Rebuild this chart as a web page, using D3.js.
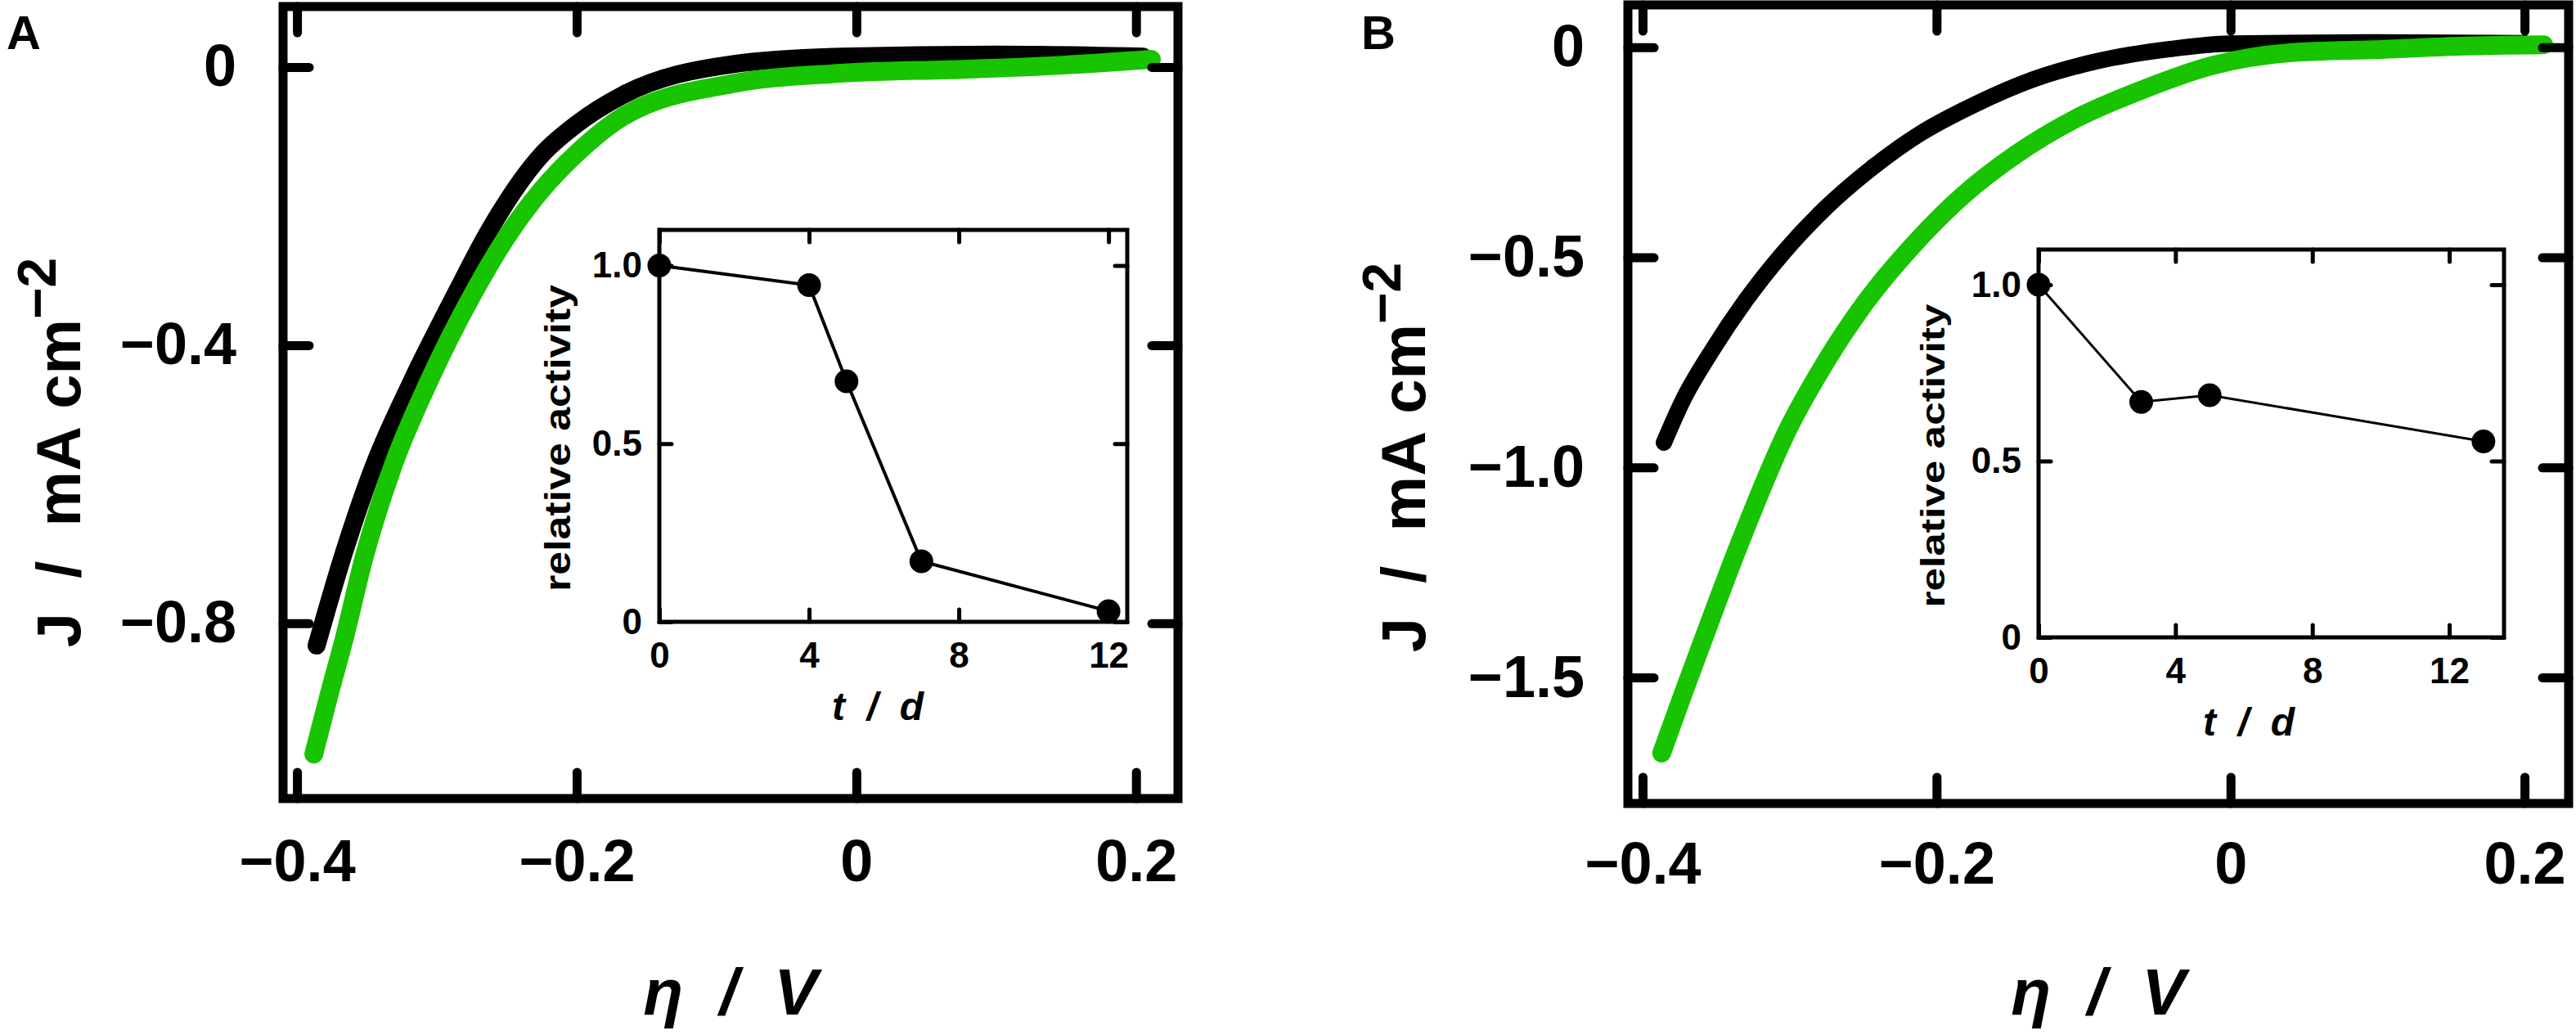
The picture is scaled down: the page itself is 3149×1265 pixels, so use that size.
<!DOCTYPE html>
<html>
<head>
<meta charset="utf-8">
<script src="https://cdn.jsdelivr.net/npm/d3@7"></script>
<style>
  body { margin: 0; background: #fff; }
  svg { display: block; }
  text { font-family: "Liberation Sans", Arial, sans-serif; font-weight: bold; fill: #000; }
</style>
</head>
<body>
<div id="chart"></div>
<script>
// panel A, polarisation curves (eta / V , J / mA cm-2)
var etaA_black = [-0.386, -0.367, -0.3457, -0.318, -0.286, -0.264, -0.225, -0.2, -0.1668, -0.089, -0.0113, 0.1, 0.205];
var jA_black   = [-0.832, -0.702, -0.577, -0.452, -0.324, -0.240, -0.126, -0.082, -0.04, 0.004, 0.015, 0.018, 0.015];
var etaA_green = [-0.388, -0.377, -0.367, -0.3516, -0.332, -0.3057, -0.2736, -0.25, -0.225, -0.2, -0.1668, -0.089, -0.0113, 0.08, 0.15, 0.211];
var jA_green   = [-0.988, -0.902, -0.828, -0.702, -0.577, -0.452, -0.324, -0.244, -0.1765, -0.124, -0.071, -0.024, -0.009, -0.003, 0.003, 0.011];

// panel B, polarisation curves
var etaB_black = [-0.3855, -0.3727, -0.3528, -0.330, -0.3043, -0.276, -0.245, -0.211, -0.174, -0.134, -0.092, -0.041, 0.0, 0.1, 0.2];
var jB_black   = [-0.941, -0.841, -0.722, -0.603, -0.489, -0.384, -0.290, -0.205, -0.136, -0.076, -0.034, -0.004, 0.009, 0.012, 0.01];
var etaB_green = [-0.387, -0.372, -0.354, -0.335, -0.3015, -0.276, -0.2475, -0.2165, -0.1825, -0.146, -0.1055, -0.060, -0.012, 0.04, 0.103, 0.159, 0.213];
var jB_green   = [-1.68, -1.535, -1.365, -1.19, -0.912, -0.752, -0.603, -0.473, -0.354, -0.255, -0.170, -0.101, -0.043, -0.013, -0.005, 0.003, 0.006];

// insets, relative activity vs time
var daysA = [0, 4, 5, 7, 12];
var activityA = [1.0, 0.945, 0.675, 0.17, 0.03];
var daysB = [0, 3, 5, 13];
var activityB = [1.0, 0.668, 0.687, 0.556];

// tick values
var etaTicks = [-0.4, -0.2, 0, 0.2];
var jTicksA = [0, -0.4, -0.8];
var jTicksB = [0, -0.5, -1.0, -1.5];
var dayTicks = [0, 4, 8, 12];
var activityTicks = [0, 0.5, 1.0];

var GREEN = "#18c400";

var svg = d3.select("#chart").append("svg")
    .attr("width", 3149)
    .attr("height", 1265);

function fmt1(d) { return d === 0 ? "0" : d3.format(".1f")(d); }

// ticks on all four sides pointing inward, labels only bottom + left
function boxAxes(g, x, y, xt, yt, o) {
    var x0 = x.range()[0], x1 = x.range()[1];
    var y0 = y.range()[0], y1 = y.range()[1];

    g.append("g").attr("transform", "translate(0," + y0 + ")")
        .call(d3.axisBottom(x).tickValues(xt).tickSizeInner(-o.tick).tickSizeOuter(0)
            .tickPadding(o.padX).tickFormat(o.fmtX));
    g.append("g").attr("transform", "translate(0," + y1 + ")")
        .call(d3.axisTop(x).tickValues(xt).tickSizeInner(-o.tick).tickSizeOuter(0)
            .tickFormat(function() { return ""; }));
    g.append("g").attr("transform", "translate(" + x0 + ",0)")
        .call(d3.axisLeft(y).tickValues(yt).tickSizeInner(-o.tick).tickSizeOuter(0)
            .tickPadding(o.padY).tickFormat(o.fmtY));
    g.append("g").attr("transform", "translate(" + x1 + ",0)")
        .call(d3.axisRight(y).tickValues(yt).tickSizeInner(-o.tick).tickSizeOuter(0)
            .tickFormat(function() { return ""; }));

    g.selectAll(".domain").remove();
    g.selectAll(".tick line")
        .attr("stroke", "#000")
        .attr("stroke-width", o.tickWidth)
        .attr("stroke-linecap", "round");
    g.selectAll(".tick text")
        .attr("font-family", null)
        .style("font-size", o.fontSize + "px")
        .style("font-family", "'Liberation Sans', Arial, sans-serif")
        .style("font-weight", "bold");

    g.append("rect")
        .attr("x", x0).attr("y", y1)
        .attr("width", x1 - x0).attr("height", y0 - y1)
        .attr("fill", "none")
        .attr("stroke", "#000")
        .attr("stroke-width", o.frameWidth);
}

function drawPanel(p) {
    var g = svg.append("g");
    var x = d3.scaleLinear().domain([-0.41, 0.23]).range([p.left, p.right]);
    var y = d3.scaleLinear().domain(p.yDomain).range([p.bottom, p.top]);

    // panel letter
    g.append("text").attr("x", p.letterX).attr("y", 60)
        .style("font-size", p.letterSize + "px").text(p.letter);

    var line = d3.line()
        .x(function(d) { return x(d[0]); })
        .y(function(d) { return y(d[1]); })
        .curve(d3.curveMonotoneX);

    p.series.forEach(function(s) {
        g.append("path")
            .datum(d3.zip(s.eta, s.j))
            .attr("d", line)
            .attr("fill", "none")
            .attr("stroke", s.color)
            .attr("stroke-width", s.width)
            .attr("stroke-linecap", "round")
            .attr("stroke-linejoin", "round");
    });

    boxAxes(g, x, y, etaTicks, p.yTicks, {
        tick: 32, tickWidth: 11, frameWidth: 11, fontSize: 72,
        padX: p.padX, padY: p.padY, fmtX: fmt1, fmtY: fmt1
    });

    // y title
    var yt = g.append("text")
        .attr("transform", "translate(" + p.yTitleX + "," + p.yTitleY + ") rotate(-90)")
        .attr("text-anchor", "middle")
        .style("font-size", "76px");
    yt.append("tspan").text("J\u00a0\u00a0/\u00a0\u00a0mA\u00a0cm");
    yt.append("tspan").attr("dy", -30).style("font-size", "66px").text("\u22122");

    // x title
    g.append("text")
        .attr("x", (p.left + p.right) / 2).attr("y", 1240)
        .attr("text-anchor", "middle")
        .style("font-size", "80px").style("font-style", "italic")
        .text("\u03b7\u00a0\u00a0/\u00a0\u00a0V");

    drawInset(g, p.inset);
}

function drawInset(parent, q) {
    var g = parent.append("g");
    var x = d3.scaleLinear().domain([0, q.maxDay]).range([q.left, q.right]);
    var y = d3.scaleLinear().domain([0, 1.1]).range([q.bottom, q.top]);

    g.append("rect")
        .attr("x", q.left).attr("y", q.top)
        .attr("width", q.right - q.left).attr("height", q.bottom - q.top)
        .attr("fill", "#fff");

    var pts = d3.zip(q.days, q.activity);
    g.append("path")
        .datum(pts)
        .attr("d", d3.line().x(function(d) { return x(d[0]); }).y(function(d) { return y(d[1]); }))
        .attr("fill", "none")
        .attr("stroke", "#000")
        .attr("stroke-width", q.lineWidth);

    g.selectAll("circle.pt")
        .data(pts).enter()
        .append("circle")
        .attr("class", "pt")
        .attr("cx", function(d) { return x(d[0]); })
        .attr("cy", function(d) { return y(d[1]); })
        .attr("r", 14.5)
        .attr("fill", "#000");

    boxAxes(g, x, y, dayTicks, activityTicks, {
        tick: 15, tickWidth: 5, frameWidth: 5, fontSize: 44,
        padX: 25, padY: 21,
        fmtX: d3.format("d"), fmtY: fmt1
    });

    g.append("text")
        .attr("transform", "translate(" + q.titleX + "," + ((q.top + q.bottom) / 2 + 15) + ") rotate(-90)")
        .attr("text-anchor", "middle")
        .attr("textLength", q.titleLen)
        .attr("lengthAdjust", "spacingAndGlyphs")
        .style("font-size", q.titleSize + "px")
        .text("relative activity");

    g.append("text")
        .attr("x", q.tdX).attr("y", q.bottom + 120)
        .attr("text-anchor", "middle")
        .style("font-size", "48px").style("font-style", "italic")
        .text("t\u00a0\u00a0/\u00a0\u00a0d");
}

drawPanel({
    letter: "A", letterX: 8, letterSize: 58,
    left: 346, right: 1440, top: 8, bottom: 976,
    yDomain: [-1.052, 0.087], yTicks: jTicksA,
    padX: 50, padY: 57,
    yTitleX: 98, yTitleY: 553,
    series: [
        { eta: etaA_black, j: jA_black, color: "#000", width: 22 },
        { eta: etaA_green, j: jA_green, color: GREEN, width: 23 }
    ],
    inset: {
        left: 806, right: 1378, top: 281, bottom: 760, maxDay: 12.5,
        days: daysA, activity: activityA, lineWidth: 4,
        titleX: 697, titleLen: 375, titleSize: 44, tdX: 1073
    }
});

drawPanel({
    letter: "B", letterX: 1664, letterSize: 58,
    left: 1990, right: 3140, top: 6, bottom: 982,
    yDomain: [-1.8, 0.101], yTicks: jTicksB,
    padX: 47, padY: 53,
    yTitleX: 1742, yTitleY: 559,
    series: [
        { eta: etaB_black, j: jB_black, color: "#000", width: 20 },
        { eta: etaB_green, j: jB_green, color: GREEN, width: 23 }
    ],
    inset: {
        left: 2492, right: 3061, top: 305, bottom: 779, maxDay: 13.6,
        days: daysB, activity: activityB, lineWidth: 3,
        titleX: 2377, titleLen: 371, titleSize: 40, tdX: 2749
    }
});
</script>
</body>
</html>
